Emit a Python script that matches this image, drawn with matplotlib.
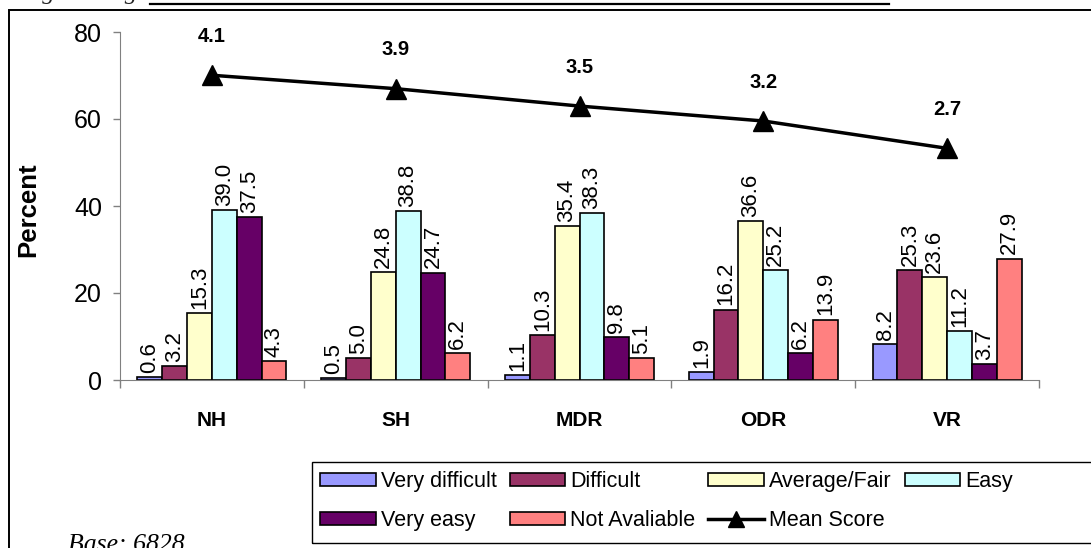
import numpy as np
import matplotlib
matplotlib.use("Agg")
import matplotlib.pyplot as plt
from matplotlib.patches import Rectangle, Patch
from matplotlib.lines import Line2D

plt.rcParams['font.family'] = ['Liberation Sans', 'DejaVu Sans']

# data
categories = ["NH", "SH", "MDR", "ODR", "VR"]
series = ["Very difficult", "Difficult", "Average/Fair", "Easy", "Very easy", "Not Avaliable"]
very_difficult = [0.6, 0.5, 1.1, 1.9, 8.2]
difficult = [3.2, 5.0, 10.3, 16.2, 25.3]
average_fair = [15.3, 24.8, 35.4, 36.6, 23.6]
easy = [39.0, 38.8, 38.3, 25.2, 11.2]
very_easy = [37.5, 24.7, 9.8, 6.2, 3.7]
not_available = [4.3, 6.2, 5.1, 13.9, 27.9]
mean_score = [4.13, 3.86, 3.51, 3.21, 2.66]

colors = ["#9999FF", "#993366", "#FFFFCC", "#CCFFFF", "#660066", "#FF8080"]
values = [very_difficult, difficult, average_fair, easy, very_easy, not_available]

W, H = 1091, 548
fig = plt.figure(figsize=(W / 100, H / 100), dpi=100)

# chart frame, runs off right and bottom edges
fig.add_artist(Rectangle((9 / W, -0.1), 1.2, 1.1 - 10 / H, transform=fig.transFigure,
                         fill=False, edgecolor="black", linewidth=1.4, clip_on=False))
# caption remnants at the top (mostly above the page)
fig.text(20 / W, 1 + 1 / H, "Figure 3.3g:", family="Liberation Serif", style="italic",
         fontsize=18, va="baseline", color="#222222")
fig.add_artist(Line2D([150 / W, 889 / W], [1 - 4 / H, 1 - 4 / H], transform=fig.transFigure,
                      color="black", linewidth=1.6))

ax = fig.add_axes([120 / W, 1 - 380 / H, 919 / W, 348 / H])
x = np.arange(len(categories))
w = 0.135
for i, (name, vals, c) in enumerate(zip(series, values, colors)):
    bars = ax.bar(x + (i - 2.5) * w, vals, w, color=c, edgecolor="black",
                  linewidth=1.2, label=name, zorder=2)
    ax.bar_label(bars, fmt="%.1f", rotation=90, padding=3, fontsize=16)

ax.set_xlim(-0.5, len(categories) - 0.5)
ax.set_ylim(0, 80)
ax.set_yticks([0, 20, 40, 60, 80])
ax.tick_params(axis="y", labelsize=18, length=5, width=1, color="#808080", pad=8)
ax.set_xticks(x)
ax.set_xticklabels(categories, fontweight="bold", fontsize=15)
ax.tick_params(axis="x", which="major", length=0, pad=22)
ax.set_xticks(np.arange(len(categories) + 1) - 0.5, minor=True)
ax.tick_params(axis="x", which="minor", length=6, width=1, color="#808080")
for s in ["top", "right"]:
    ax.spines[s].set_visible(False)
for s in ["left", "bottom"]:
    ax.spines[s].set_color("#808080")
ax.patch.set_visible(False)
fig.text(28 / W, 1 - 210 / H, "Percent", rotation=90, fontweight="bold", fontsize=18.5,
         ha="center", va="center")

# mean score on a hidden secondary scale
ax2 = ax.twinx()
ax2.set_ylim(-2, 5)
ax2.set_axis_off()
ax2.plot(x, mean_score, color="black", linewidth=2.5, marker="^", markersize=15)
for xi, m in zip(x, mean_score):
    ax2.annotate("%.1f" % m, (xi, m), xytext=(0, 28), textcoords="offset points",
                 ha="center", va="center", fontweight="bold", fontsize=14.5)

# legend box, runs off the right edge
fig.add_artist(Rectangle((312 / W, 1 - 542.5 / H), 1.0, 81 / H, transform=fig.transFigure,
                         fill=False, edgecolor="black", linewidth=1.0, clip_on=False))
handles = [Patch(facecolor=c, edgecolor="black", linewidth=1.2) for c in colors]
mean_handle = Line2D([], [], color="black", linewidth=2.5, marker="^", markersize=11)
order = [0, 4, 1, 5, 2, 6, 3]
all_h = handles + [mean_handle]
all_l = series + ["Mean Score"]
fig.legend([all_h[k] for k in order], [all_l[k] for k in order], ncol=4,
           loc="upper left", bbox_to_anchor=(320 / W, 1 - 471 / H),
           bbox_transform=fig.transFigure, frameon=False, borderpad=0, borderaxespad=0,
           fontsize=15.5, handlelength=2.6, handleheight=0.6, handletextpad=0.22,
           columnspacing=0.6, labelspacing=0.84)

fig.text(68 / W, 1 - 551 / H, "Base: 6828", family="Liberation Serif", style="italic",
         fontsize=18.5, va="baseline")

fig.savefig("out.png", dpi=100)
